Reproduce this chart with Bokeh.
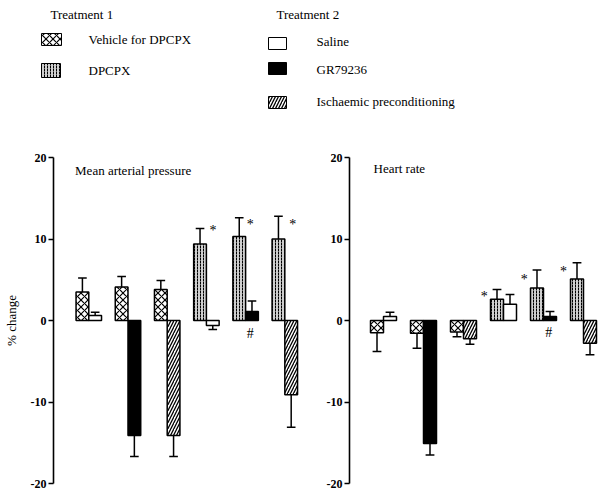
import math
from bokeh.plotting import figure
from bokeh.layouts import column, row
from bokeh.models import Range1d, FixedTicker, Label
from bokeh.embed import file_html
from bokeh.resources import INLINE
from bokeh.core.properties import value

# ---------------- data ----------------
group_pos = [1, 2, 3, 4, 5, 6]
treatment1 = ["Vehicle for DPCPX", "Vehicle for DPCPX", "Vehicle for DPCPX",
              "DPCPX", "DPCPX", "DPCPX"]
treatment2 = ["Saline", "GR79236", "Ischaemic preconditioning",
              "Saline", "GR79236", "Ischaemic preconditioning"]

# Mean arterial pressure (% change) and SEM
map_t1 = [3.5, 4.1, 3.8, 9.4, 10.3, 10.0]
map_t1_sem = [1.7, 1.3, 1.1, 1.9, 2.3, 2.8]
map_t2 = [0.6, -14.1, -14.1, -0.6, 1.1, -9.1]
map_t2_sem = [0.4, 2.6, 2.6, 0.5, 1.3, 4.0]

# Heart rate (% change) and SEM
hr_t1 = [-1.5, -1.55, -1.4, 2.6, 4.0, 5.1]
hr_t1_sem = [2.3, 1.85, 0.6, 1.2, 2.2, 2.0]
hr_t2 = [0.5, -15.1, -2.25, 2.0, 0.5, -2.8]
hr_t2_sem = [0.5, 1.4, 0.65, 1.2, 0.6, 1.4]

# significance marks
map_mark_group = [4, 5, 6, 5]
map_mark_text = ["*", "*", "*", "#"]
map_mark_y = [11.0, 11.8, 11.8, -1.6]
hr_mark_group = [4, 5, 6, 5]
hr_mark_text = ["*", "*", "*", "#"]
hr_mark_y = [3.0, 5.0, 6.0, -1.5]

y_ticks = [-20, -10, 0, 10, 20]
y_tick_labels = {-20: "-20", -10: "-10", 0: "0", 10: "10", 20: "20"}

legend1_title = "Treatment 1"
legend1_items = ["Vehicle for DPCPX", "DPCPX"]
legend2_title = "Treatment 2"
legend2_items = ["Saline", "GR79236", "Ischaemic preconditioning"]

# ---------------- styles ----------------
FONT = "serif"
styles = {
    "Vehicle for DPCPX": dict(fill_color="white", hatch_pattern="x", hatch_scale=7,
                              hatch_weight=1.2, hatch_color="black"),
    "DPCPX": dict(fill_color="#cfcfcf", hatch_pattern=":", hatch_scale=3,
                  hatch_weight=1, hatch_color="black"),
    "Saline": dict(fill_color="white"),
    "GR79236": dict(fill_color="black"),
    "Ischaemic preconditioning": dict(fill_color="white", hatch_pattern="/", hatch_scale=6,
                                      hatch_weight=1.3, hatch_color="black"),
}
BW = 0.325
CAP = 0.11
PX_PER_UNIT = 40.0


def make_panel(title, t1, t1s, t2, t2s, mg, mt, my, mdx, x0, width, min_left,
               title_x, title_y, ylabel=None):
    frame_w = width - min_left
    p = figure(width=width, height=357,
               x_range=Range1d(x0, x0 + frame_w / PX_PER_UNIT),
               y_range=Range1d(-20, 20),
               output_backend="svg", toolbar_location=None,
               min_border_left=min_left, min_border_right=0,
               min_border_top=22, min_border_bottom=9)
    p.xaxis.visible = False
    p.grid.visible = False
    p.outline_line_color = None
    ax = p.yaxis[0]
    ax.ticker = FixedTicker(ticks=y_ticks)
    ax.major_label_overrides = y_tick_labels
    ax.minor_tick_line_color = None
    ax.major_tick_out = 5
    ax.major_tick_in = 0
    ax.axis_line_width = 1.6
    ax.major_tick_line_width = 1.6
    ax.major_label_text_font = FONT
    ax.major_label_text_font_size = "12px"
    ax.major_label_text_font_style = "bold"
    ax.major_label_text_color = "black"
    ax.major_label_standoff = 2
    if ylabel:
        ax.axis_label = ylabel
        ax.axis_label_text_font = FONT
        ax.axis_label_text_font_size = "13px"
        ax.axis_label_text_font_style = "normal"
        ax.axis_label_text_color = "black"
        ax.axis_label_standoff = 9

    centers = [g - 0.1 for g in group_pos]
    xs = [c - BW / 2 for c in centers] + [c + BW / 2 for c in centers]
    vals = list(t1) + list(t2)
    sems = list(t1s) + list(t2s)
    names = list(treatment1) + list(treatment2)

    for name, st in styles.items():
        bx = [x for x, n in zip(xs, names) if n == name]
        bt = [v for v, n in zip(vals, names) if n == name]
        if bx:
            p.vbar(x=bx, top=bt, bottom=0, width=BW, line_color="black",
                   line_width=1.5, **st)

    ends = [v + (s if v >= 0 else -s) for v, s in zip(vals, sems)]
    p.segment(x0=xs, y0=vals, x1=xs, y1=ends, line_color="black", line_width=1.5)
    p.segment(x0=[x - CAP for x in xs], y0=ends, x1=[x + CAP for x in xs], y1=ends,
              line_color="black", line_width=1.5)

    p.text(x=[g - 0.1 + d for g, d in zip(mg, mdx)], y=my, text=mt,
           text_font=value(FONT), text_font_size="14px", text_align="center",
           text_baseline="middle", text_color="black")

    p.add_layout(Label(x=title_x, y=title_y, text=title, text_font=FONT,
                       text_font_size="13px", text_baseline="middle",
                       text_color="black"))
    return p


left = make_panel("Mean arterial pressure", map_t1, map_t1_sem, map_t2, map_t2_sem,
                  map_mark_group, map_mark_text, map_mark_y, [0.17, 0.12, 0.2, 0.12],
                  0.0, 300, 48, 0.55, 18.4, ylabel="% change")
right = make_panel("Heart rate", hr_t1, hr_t1_sem, hr_t2, hr_t2_sem,
                   hr_mark_group, hr_mark_text, hr_mark_y, [-0.48, -0.48, -0.5, 0.13],
                   0.05, 300, 49, 0.65, 18.65)

# ---------------- legend ----------------
leg = figure(width=600, height=135, x_range=Range1d(0, 600), y_range=Range1d(135, 0),
             output_backend="svg", toolbar_location=None, min_border=0)
leg.axis.visible = False
leg.grid.visible = False
leg.outline_line_color = None

sw1_x = [51, 50.5]
sw1_y = [39, 70]
sw1_w = [20, 19]
sw1_h = [12, 14]
for name, x, y, w, h in zip(legend1_items, sw1_x, sw1_y, sw1_w, sw1_h):
    leg.rect(x=[x], y=[y], width=[w], height=[h], line_color="black", line_width=1,
             **styles[name])
sw2_y = [43, 68, 102]
for name, y in zip(legend2_items, sw2_y):
    leg.rect(x=[277], y=[y], width=[18], height=[12], line_color="black", line_width=1,
             **styles[name])

leg.text(x=[50, 88, 88, 276, 316, 316, 316],
         y=[14, 39, 70, 14, 41, 69, 101],
         text=[legend1_title] + legend1_items + [legend2_title] + legend2_items,
         text_font=value(FONT), text_font_size="13px", text_baseline="middle",
         text_align="left", text_color="black")

layout = column(leg, row(left, right))
open("out.html", "w").write(file_html(layout, INLINE))
